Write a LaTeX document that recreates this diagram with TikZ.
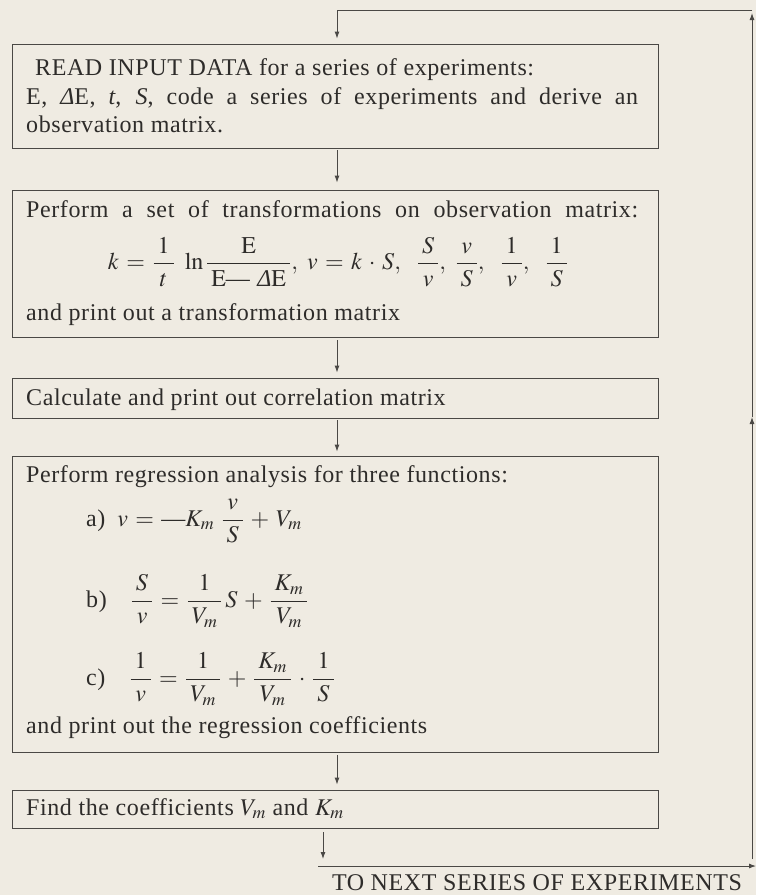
\documentclass[tikz,border=0pt]{standalone}
\usepackage{amsmath}
\usepackage{mathptmx}
\usepackage{fontspec}
\setmainfont{Liberation Serif}[LetterSpace=2.5]
\usetikzlibrary{arrows.meta}
\definecolor{bgc}{HTML}{EFEBE2}
\definecolor{inkc}{HTML}{2E2C2A}
\definecolor{linec}{HTML}{4A4845}
\newcommand{\dE}{\mbox{\itshape Δ}}
\newcommand{\fr}[2]{\frac{\mkern3mu #1\mkern3mu}{\mkern3mu #2\mkern3mu}}
\newcommand{\dsh}{\mathord{\mbox{—}}}
\newcommand{\mathset}{\thickmuskip=5.5mu plus 2mu\medmuskip=5mu plus 2mu}
\tikzset{
  boxst/.style={draw=linec, line width=0.9pt, minimum width=646pt, inner sep=0pt},
  txt/.style={text=inkc, inner sep=0pt, font=\fontsize{24}{29}\selectfont\mathset},
  arr/.style={draw=linec, line width=0.9pt, -{Latex[length=7pt,width=5pt]}},
  ln/.style={draw=linec, line width=0.9pt}
}
\begin{document}
\begin{tikzpicture}[x=1pt,y=-1pt]
\fill[bgc] (0,0) rectangle (756,895);
\useasboundingbox (0,0) rectangle (756,895);
% boxes
\node[boxst, minimum height=104pt] (b1) at (335,96) {};
\node[boxst, minimum height=147pt] (b2) at (335,263.5) {};
\node[boxst, minimum height=40pt] (b3) at (335,398) {};
\node[boxst, minimum height=296pt] (b4) at (335,604) {};
\node[boxst, minimum height=38pt] (b5) at (335,809) {};
% connectors
\coordinate (ax) at (337,0);
\coordinate (drop) at (323,859);
\draw[arr, shorten <=2pt, shorten >=7pt] (b1.south -| ax) -- (b2.north -| ax);
\draw[arr, shorten <=3pt, shorten >=5pt] (b2.south -| ax) -- (b3.north -| ax);
\draw[arr, shorten <=2pt, shorten >=4pt] (b3.south -| ax) -- (b4.north -| ax);
\draw[arr, shorten <=3pt, shorten >=5pt] (b4.south -| ax) -- (b5.north -| ax);
\draw[arr, shorten <=4pt] (b5.south -| drop) -- (drop);
\coordinate (nx) at (318,866);
\coordinate (ne) at (756,866);
\draw[arr] (nx) -- (ne);
\coordinate (rb) at (752,859);
\coordinate (rm) at (752,417);
\coordinate (rt) at (752,13);
\draw[arr] (rb) -- (rm);
\draw[arr] (rm) -- (rt);
\coordinate (tr) at (752,10);
\coordinate (tl) at (337,10);
\draw[ln] (tr) -- (tl);
\draw[arr, shorten >=5pt] (tl) -- (b1.north -| tl);
% texts box 1
\node[txt, anchor=base west] (t1a) at (35,75) {READ INPUT DATA for a series of experiments:};
\node[txt, anchor=base west] (t1b) at (26,104) {\makebox[612pt][s]{E, \dE E, \textit{t}, \textit{S}, code a series of experiments and derive an}};
\node[txt, anchor=base west] (t1c) at (26,132) {observation matrix.};
% box 2
\node[txt, anchor=base west] (t2a) at (26,217) {\makebox[612pt][s]{Perform a set of transformations on observation matrix:}};
\node[txt] (t2b) at (338,262) {$\displaystyle k=\fr{1}{t}\;\ln\fr{\mathrm{E}}{\mathrm{E}\dsh\;\dE\mathrm{E}},\ v=k\cdot S,\ \ \fr{S}{v},\ \fr{v}{S},\ \ \fr{1}{v},\ \ \fr{1}{S}$};
\node[txt, anchor=base west] (t2c) at (26,320) {and print out a transformation matrix};
% box 3
\node[txt, anchor=base west] (t3) at (26,405) {Calculate and print out correlation matrix};
% box 4
\node[txt, anchor=base west] (t4a) at (26,482) {Perform regression analysis for three functions:};
\node[txt, anchor=base west] (t4b) at (86,526) {a)\enspace$\displaystyle v=\dsh K_m\;\fr{v}{S}+V_m$};
\node[txt, anchor=base west] (t4c) at (86,607) {b)\quad$\displaystyle \fr{S}{v}=\fr{1}{V_m}\,S+\fr{K_m}{V_m}$};
\node[txt, anchor=base west] (t4d) at (86,685) {c)\quad$\displaystyle \fr{1}{v}=\fr{1}{V_m}+\fr{K_m}{V_m}\cdot\fr{1}{S}$};
\node[txt, anchor=base west] (t4e) at (26,733) {and print out the regression coefficients};
% box 5
\node[txt, anchor=base west] (t5) at (26,815) {Find the coefficients $V_m$ and $K_m$};
% bottom label
\node[txt, anchor=base] (tn) at (537,890) {TO NEXT SERIES OF EXPERIMENTS};
\end{tikzpicture}
\end{document}
